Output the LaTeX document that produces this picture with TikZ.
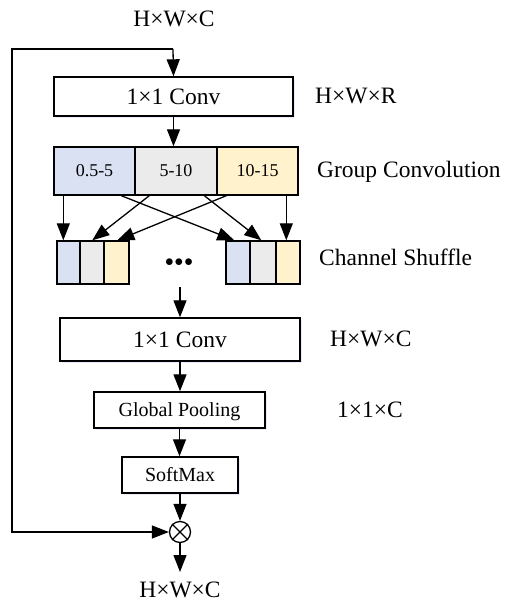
\documentclass[tikz,border=0pt]{standalone}
\usepackage{fontspec}
\setmainfont{Liberation Serif}
\usetikzlibrary{arrows.meta,shadows,calc}
\definecolor{cblue}{HTML}{DAE1F3}
\definecolor{cgrey}{HTML}{EBEBEB}
\definecolor{cyell}{HTML}{FFF2CC}
\begin{document}
\begin{tikzpicture}[x=1pt,y=-1pt,
  arr/.style={line width=1.3pt,-{Triangle[length=17pt,width=13pt]}},
  bigtxt/.style={font=\fontsize{23.5}{28}\selectfont},
  box/.style={draw,line width=1.4pt,fill=white,inner sep=0pt,text depth=0pt,
     drop shadow={opacity=0.2,fill=blue!40,shadow xshift=1.5pt,shadow yshift=-1.5pt}},
  bigbox/.style={box,font=\fontsize{23.5}{28}\selectfont,text height=15.5pt},
  midbox/.style={box,font=\fontsize{20}{24}\selectfont,text height=13.2pt},
  cell/.style={draw,line width=1.4pt,inner sep=0pt,text depth=0pt,text height=11.9pt,
     font=\fontsize{18}{22}\selectfont},
  scell/.style={draw,line width=1.4pt,inner sep=0pt,minimum height=43pt},
  lab/.style={bigtxt,anchor=base west,inner sep=0pt}
]
\useasboundingbox (0,0) rectangle (506,602);

% top and bottom sizes
\node[bigtxt,anchor=base,inner sep=0pt] (tin) at (174,27) {H×W×C};
\node[bigtxt,anchor=base,inner sep=0pt] (tout) at (180,597) {H×W×C};

% first conv
\node[bigbox,minimum width=239pt,minimum height=39pt] (box1) at (173.5,96.5) {1×1 Conv};
\node[lab] (l1) at (315,103) {H×W×R};

% group convolution
\node[cell,fill=cblue,minimum width=81pt,minimum height=48pt] (g1) at (94.5,171) {0.5-5};
\node[cell,fill=cgrey,minimum width=82pt,minimum height=48pt] (g2) at (176,171) {5-10};
\node[cell,fill=cyell,minimum width=81pt,minimum height=48pt] (g3) at (257.5,171) {10-15};
\node[lab] (l2) at (317,177) {Group Convolution};

% channel shuffle
\node[scell,fill=cblue,minimum width=23pt] (s1) at (68.5,262.5) {};
\node[scell,fill=cgrey,minimum width=24pt] (s2) at (92,262.5) {};
\node[scell,fill=cyell,minimum width=25pt] (s3) at (116.5,262.5) {};
\node[scell,fill=cblue,minimum width=24pt] (r1) at (238,262.5) {};
\node[scell,fill=cgrey,minimum width=26pt] (r2) at (263,262.5) {};
\node[scell,fill=cyell,minimum width=24pt] (r3) at (288,262.5) {};
\node[inner sep=0pt] (dots) at (179,263) {\fontsize{16}{19}\selectfont$\bullet\!\bullet\!\bullet$};
\node[lab] (l3) at (319,265) {Channel Shuffle};
\coordinate (shout) at (180,287);

% second conv and rest
\node[bigbox,minimum width=240pt,minimum height=43pt] (box3) at (180,339.5) {1×1 Conv};
\node[lab] (l4) at (330,346) {H×W×C};
\node[midbox,minimum width=171pt,minimum height=36pt] (gp) at (179.5,410) {Global Pooling};
\node[lab] (l5) at (337,417) {1×1×C};
\node[midbox,minimum width=116pt,minimum height=36pt] (sm) at (180,475) {SoftMax};
\node[draw,circle,line width=1.3pt,minimum size=21pt,inner sep=0pt,fill=white] (ot) at (180,532) {};
\draw[line width=1.1pt] (ot.north west) -- (ot.south east) (ot.north east) -- (ot.south west);
\coordinate (outend) at (180,572);

% loop
\coordinate (ctop) at (173,49);
\coordinate (ctl) at (12,49);
\coordinate (cbl) at (12,532);
\draw[arr] (ctop) -- (box1.north);
\draw[arr] (ctop) -- (ctl) -- (cbl) -- (ot.west);

% flow
\draw[arr] (box1.south) -- (box1.south |- g2.north);
\draw[arr] ([xshift=10pt]g1.south west) -- ([xshift=10pt]g1.south west |- s1.north);
\draw[arr] ([xshift=15pt]g2.south west) -- ([xshift=13pt]s2.north west);
\draw[arr] ([xshift=10pt]g3.south west) -- ([xshift=14pt]s3.north west);
\draw[arr] ([xshift=68pt]g1.south west) -- ([xshift=9pt]r1.north west);
\draw[arr] ([xshift=70pt]g2.south west) -- ([xshift=12pt]r2.north west);
\draw[arr] ([xshift=70pt]g3.south west) -- ([xshift=70pt]g3.south west |- r3.north);
\draw[arr] (shout) -- (shout |- box3.north);
\draw[arr] (box3.south) -- (box3.south |- gp.north);
\draw[arr] (gp.south) -- (gp.south |- sm.north);
\draw[arr] (sm.south) -- (ot.north);
\draw[arr] (ot.south) -- (outend);
\end{tikzpicture}
\end{document}
